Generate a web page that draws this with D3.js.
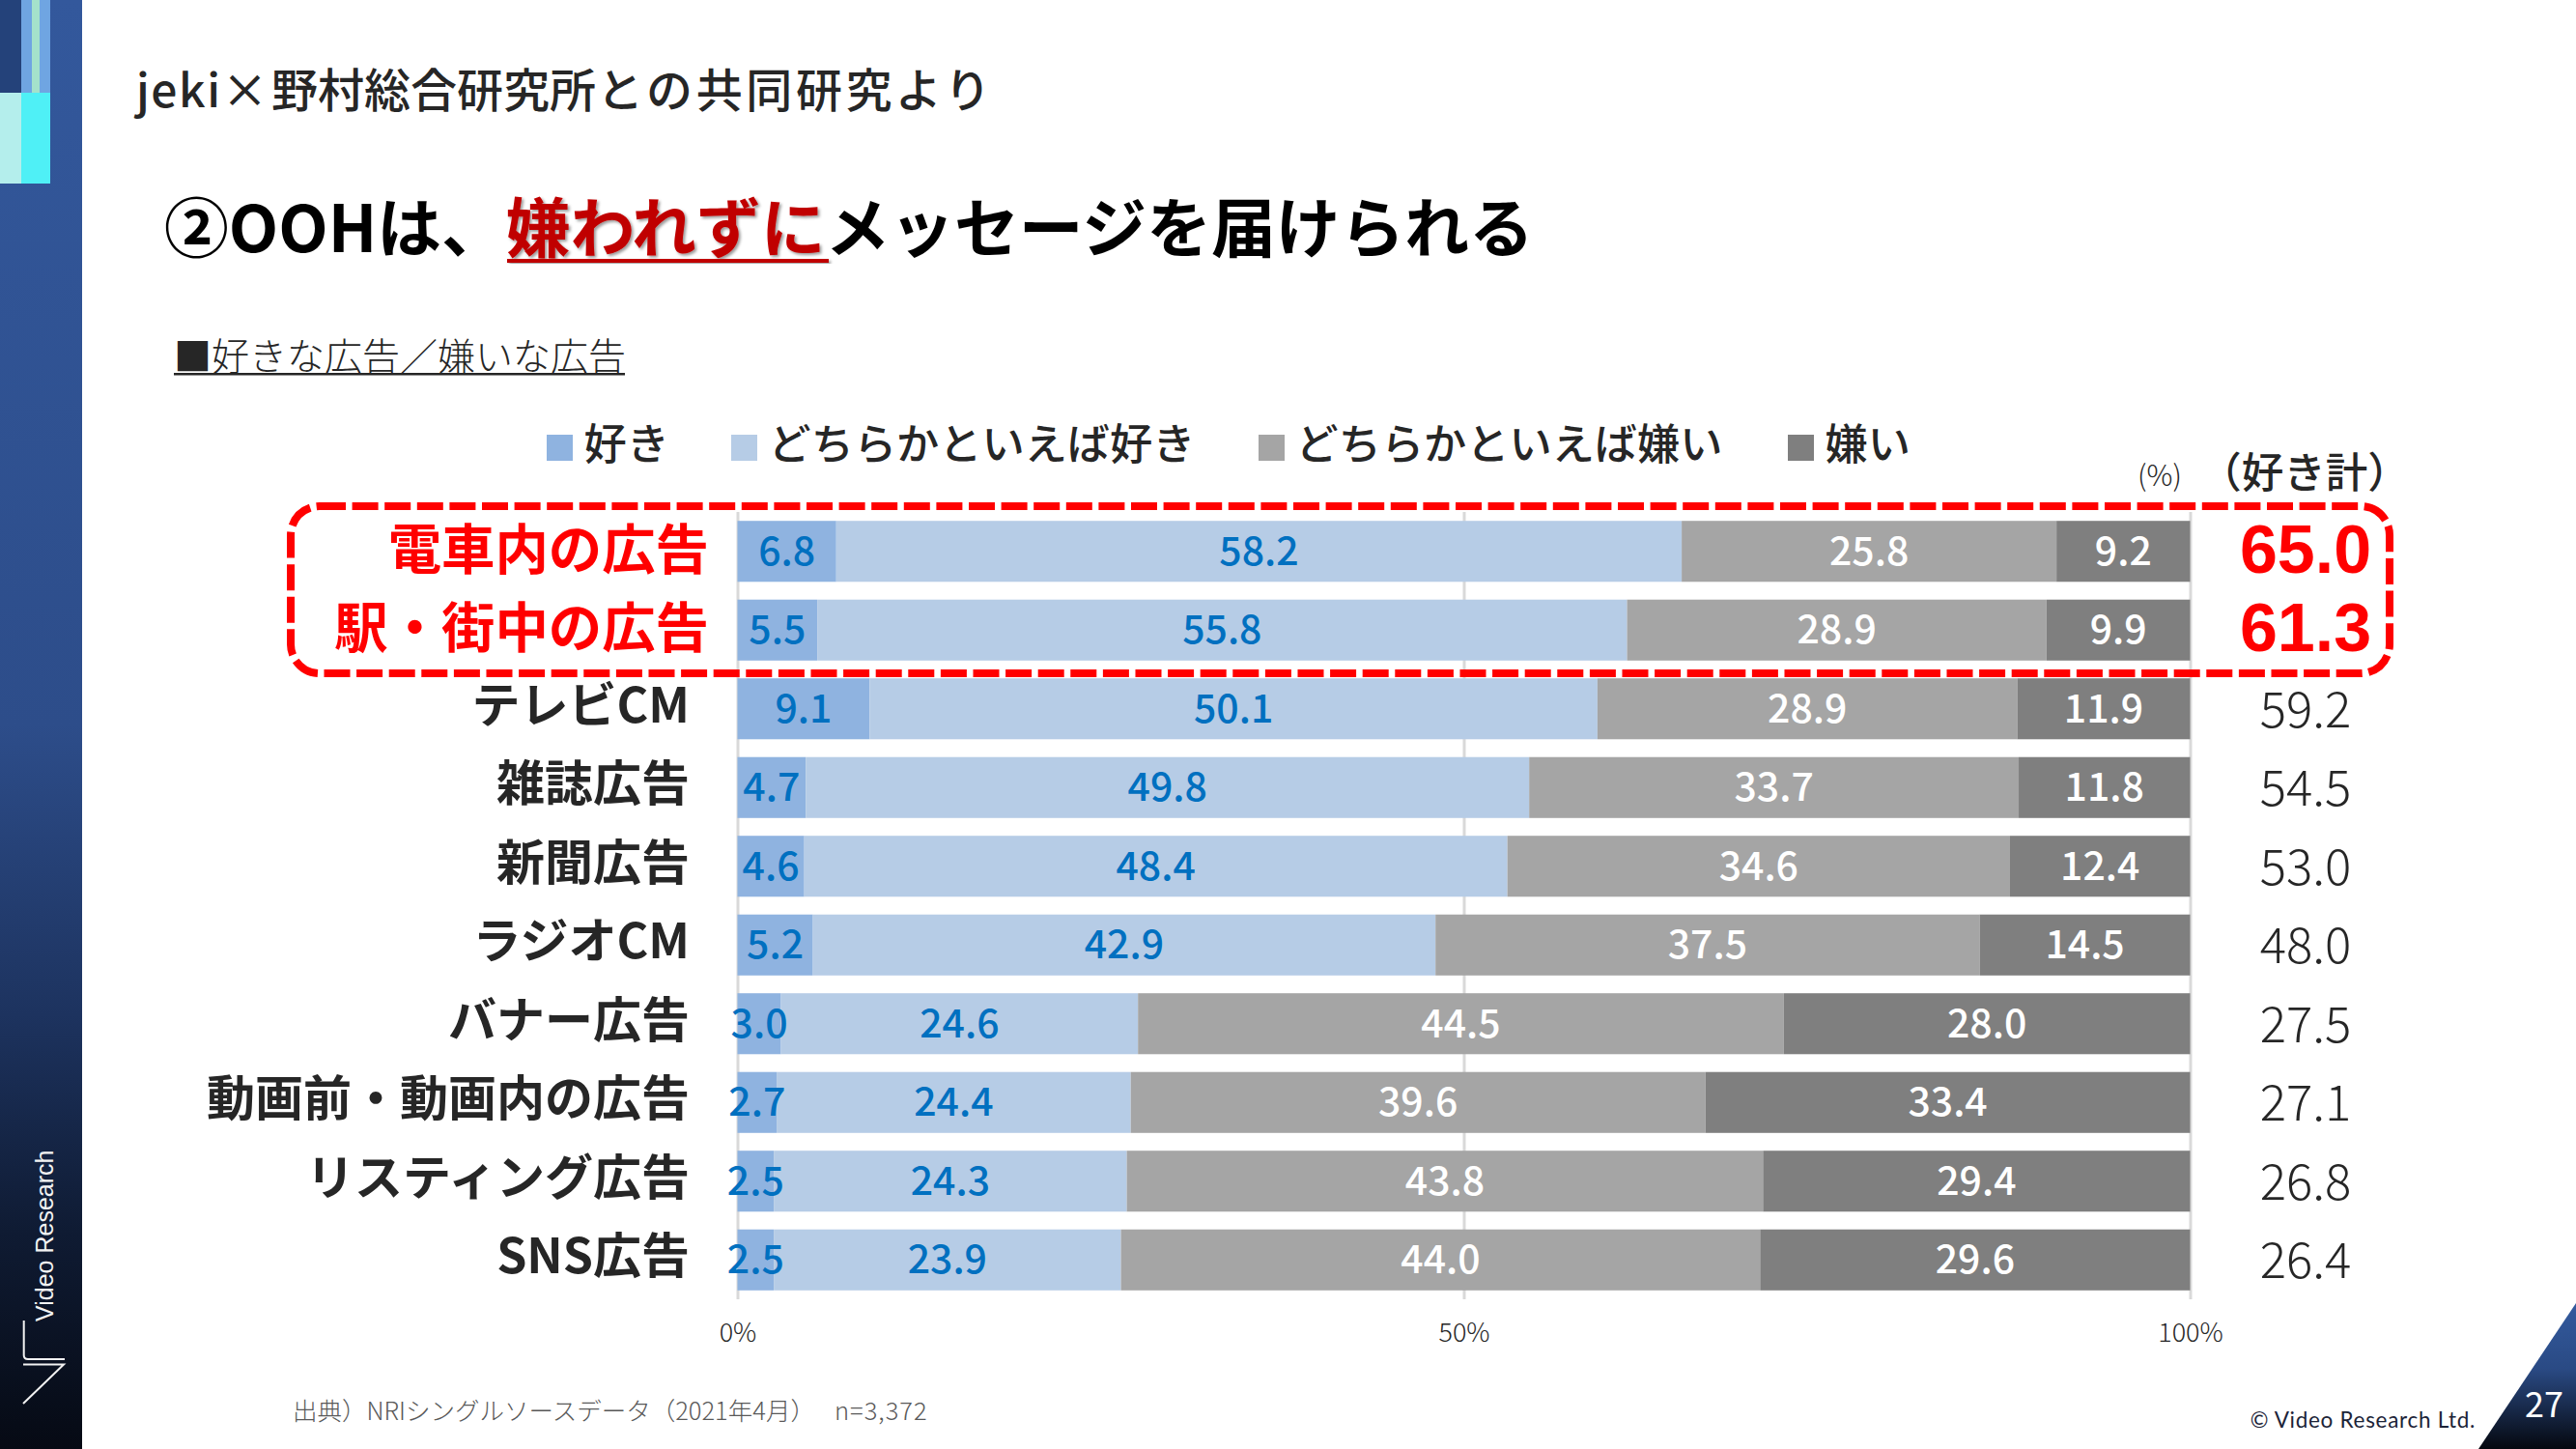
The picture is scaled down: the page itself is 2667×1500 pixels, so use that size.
<!DOCTYPE html>
<html>
<head>
<meta charset="utf-8">
<script src="https://cdn.jsdelivr.net/npm/d3@7"></script>
<style>
  html, body { margin: 0; padding: 0; background: #fff; }
  svg { display: block; }
  text { font-family: "Noto Sans CJK JP", sans-serif; }
</style>
</head>
<body>
<svg id="slide" width="2667" height="1500"></svg>
<script>
const categories = ["電車内の広告", "駅・街中の広告", "テレビCM", "雑誌広告", "新聞広告", "ラジオCM", "バナー広告", "動画前・動画内の広告", "リスティング広告", "SNS広告"]
const seriesNames = ["好き", "どちらかといえば好き", "どちらかといえば嫌い", "嫌い"]
const like = [6.8, 5.5, 9.1, 4.7, 4.6, 5.2, 3.0, 2.7, 2.5, 2.5]
const ratherLike = [58.2, 55.8, 50.1, 49.8, 48.4, 42.9, 24.6, 24.4, 24.3, 23.9]
const ratherDislike = [25.8, 28.9, 28.9, 33.7, 34.6, 37.5, 44.5, 39.6, 43.8, 44.0]
const dislike = [9.2, 9.9, 11.9, 11.8, 12.4, 14.5, 28.0, 33.4, 29.4, 29.6]
const likeTotal = ["65.0", "61.3", "59.2", "54.5", "53.0", "48.0", "27.5", "27.1", "26.8", "26.4"]
const xTicks = [0, 0.5, 1]

const colors = ["#8fb3e0", "#b6cce6", "#a5a5a5", "#7f7f7f"]
const red = "#ff0000"
const ink = "#262626"
const highlighted = 2 // first two rows are in the red box

const svg = d3.select("#slide")
const defs = svg.append("defs")

const sideGrad = defs.append("linearGradient").attr("id", "side").attr("x1", 0).attr("x2", 0).attr("y1", 0).attr("y2", 1)
sideGrad.append("stop").attr("offset", "0").attr("stop-color", "#33589c")
sideGrad.append("stop").attr("offset", "0.5").attr("stop-color", "#2d4d8a")
sideGrad.append("stop").attr("offset", "0.7").attr("stop-color", "#1d335f")
sideGrad.append("stop").attr("offset", "0.85").attr("stop-color", "#0f1b33")
sideGrad.append("stop").attr("offset", "1").attr("stop-color", "#060a14")

const cornerGrad = defs.append("linearGradient").attr("id", "corner").attr("x1", 0).attr("x2", 0).attr("y1", 0).attr("y2", 1)
cornerGrad.append("stop").attr("offset", "0").attr("stop-color", "#335a9e")
cornerGrad.append("stop").attr("offset", "0.45").attr("stop-color", "#2a4a84")
cornerGrad.append("stop").attr("offset", "1").attr("stop-color", "#05080f")

const shadow = defs.append("filter").attr("id", "shadow").attr("x", "-5%").attr("y", "-10%").attr("width", "110%").attr("height", "125%")
shadow.append("feDropShadow").attr("dx", 2).attr("dy", 2).attr("stdDeviation", 1.5).attr("flood-color", "#000").attr("flood-opacity", 0.4)

// sidebar and page furniture
const side = svg.append("g")
side.append("rect").attr("width", 85).attr("height", 1500).attr("fill", "url(#side)")
const blocks = [
  [0, 0, 22, 96, "#24427a"],
  [22, 0, 30, 96, "#6fa5e2"],
  [33, 0, 8, 96, "#a4e2cb"],
  [0, 96, 22, 94, "#b4eeec"],
  [22, 96, 30, 94, "#4ff0f6"]
]
side.selectAll("rect.block").data(blocks).join("rect").attr("class", "block")
  .attr("x", d => d[0]).attr("y", d => d[1]).attr("width", d => d[2]).attr("height", d => d[3]).attr("fill", d => d[4])
side.append("text").attr("transform", "translate(55,1368) rotate(-90)")
  .style("font-family", "'Liberation Sans', sans-serif").attr("font-size", 25).attr("fill", "#f2f2f2").text("Video Research")
side.append("path").attr("d", "M24.7 1367V1403Q24.7 1407 29 1407H67M24 1412.5H66L24 1453")
  .attr("fill", "none").attr("stroke", "#f2f2f2").attr("stroke-width", 2)

svg.append("path").attr("d", "M2566 1500L2667 1349V1500Z").attr("fill", "url(#corner)")
svg.append("text").attr("x", 2634).attr("y", 1467).attr("text-anchor", "middle").attr("font-size", 36).attr("fill", "#fff").text("27")
svg.append("text").attr("x", 2563).attr("y", 1478).attr("text-anchor", "end").attr("font-size", 22.5)
  .style("font-family", "Lato, sans-serif").attr("fill", "#1c2438").attr("letter-spacing", 0.7).text("© Video Research Ltd.")

// headings
const topTitle = svg.append("text").attr("x", 141).attr("y", 111).attr("font-size", 48).attr("font-weight", 500).attr("fill", ink)
topTitle.append("tspan").attr("letter-spacing", 1.5).text("jeki×")
topTitle.append("tspan").attr("dx", 2).text("野村総合研究所")
topTitle.append("tspan").attr("dx", 1).attr("letter-spacing", 3.6).text("との共同研究より")

// the red part of the headline has a drop shadow, so it is its own text
const headlineParts = ["②OOHは、", "嫌われずに", "メッセージを届けられる"]
let headX = 170
headlineParts.forEach((part, i) => {
  const t = svg.append("text").attr("x", headX).attr("y", 261).attr("font-size", 66.8).attr("font-weight", 700)
    .attr("fill", i === 1 ? "#c00000" : "#000").text(part)
  if (i === 1) t.attr("filter", "url(#shadow)")
  headX += t.node().getComputedTextLength()
})
svg.append("rect").attr("x", 525).attr("y", 268).attr("width", 333).attr("height", 4).attr("fill", "#c00000").attr("filter", "url(#shadow)")

svg.append("text").attr("x", 180).attr("y", 383).attr("font-size", 39).attr("font-weight", 300).attr("fill", ink)
  .text("■好きな広告／嫌いな広告")
svg.append("rect").attr("x", 180).attr("y", 386).attr("width", 467).attr("height", 2.5).attr("fill", ink)

// chart
const x = d3.scaleLinear().domain([0, 1]).range([763.5, 2267.5])
const y = d3.scaleBand().domain(categories).range([530, 1345]).paddingInner(0.226).paddingOuter(0.113)

const rows = categories.map((name, i) => ({
  name,
  [seriesNames[0]]: like[i],
  [seriesNames[1]]: ratherLike[i],
  [seriesNames[2]]: ratherDislike[i],
  [seriesNames[3]]: dislike[i]
}))
const stacked = d3.stack().keys(seriesNames).offset(d3.stackOffsetExpand)(rows)

const xAxis = svg.append("g").attr("transform", "translate(0,1345)")
  .call(d3.axisBottom(x).tickValues(xTicks).tickFormat(d3.format(".0%")).tickSize(815).tickPadding(20))
xAxis.select(".domain").remove()
xAxis.selectAll(".tick line").attr("y2", -815).attr("stroke", "#d9d9d9").attr("stroke-width", 3)
xAxis.selectAll(".tick text").attr("y", 44).attr("dy", 0)
  .attr("font-size", 27).attr("font-weight", 300).attr("fill", ink)
  .style("font-family", "'Noto Sans CJK JP', sans-serif")

const layers = svg.append("g").selectAll("g").data(stacked).join("g").attr("fill", (d, i) => colors[i])
layers.selectAll("rect").data(d => d).join("rect")
  .attr("x", d => x(d[0]))
  .attr("width", d => x(d[1]) - x(d[0]))
  .attr("y", d => y(d.data.name))
  .attr("height", y.bandwidth())

// segment values, blue on the two "like" series and white on the others
const valueLayers = svg.append("g").selectAll("g").data(stacked).join("g")
  .attr("fill", (d, i) => (i < 2 ? "#0070c0" : "#fff"))
valueLayers.selectAll("text").data(d => d.map(v => ({ v, key: d.key }))).join("text")
  .attr("x", d => x((d.v[0] + d.v[1]) / 2))
  .attr("y", d => y(d.v.data.name) + y.bandwidth() / 2 + 14)
  .attr("text-anchor", "middle")
  .attr("font-size", 41)
  .attr("font-weight", 500)
  .text(d => d.v.data[d.key].toFixed(1))

// category labels
svg.append("g").selectAll("text").data(categories).join("text")
  .attr("x", (d, i) => (i < highlighted ? 734 : 714))
  .attr("y", (d, i) => y(d) + y.bandwidth() / 2 + (i < highlighted ? 18 : 14))
  .attr("text-anchor", "end")
  .attr("font-size", (d, i) => (i < highlighted ? 55.4 : 50))
  .attr("font-weight", 700)
  .attr("fill", (d, i) => (i < highlighted ? red : ink))
  .text(d => d)

// like totals
svg.append("g").selectAll("text").data(likeTotal).join("text")
  .attr("x", 2387)
  .attr("y", (d, i) => y(categories[i]) + y.bandwidth() / 2 + (i < highlighted ? 22 : 19))
  .attr("text-anchor", "middle")
  .attr("font-size", (d, i) => (i < highlighted ? 70 : 51))
  .attr("font-weight", (d, i) => (i < highlighted ? 700 : 300))
  .attr("fill", (d, i) => (i < highlighted ? red : ink))
  .style("font-family", (d, i) => (i < highlighted ? "'Liberation Sans', sans-serif" : null))
  .text(d => d)

svg.append("text").attr("x", 2236).attr("y", 503).attr("text-anchor", "middle").attr("font-size", 30).attr("font-weight", 300).attr("fill", ink).text("(%)")
svg.append("text").attr("x", 2386).attr("y", 505).attr("text-anchor", "middle").attr("font-size", 43.5).attr("font-weight", 500).attr("fill", ink).text("（好き計）")

// legend
const legendX = [566, 757, 1303, 1851]
const legend = svg.append("g").selectAll("g").data(seriesNames).join("g")
  .attr("transform", (d, i) => `translate(${legendX[i]},450)`)
legend.append("rect").attr("width", 27).attr("height", 27).attr("fill", (d, i) => colors[i])
legend.append("text").attr("x", 38.5).attr("y", 26).attr("font-size", 44.2).attr("font-weight", 500).attr("fill", ink).text(d => d)

// red dashed highlight
svg.append("rect").attr("x", 301).attr("y", 524).attr("width", 2173).attr("height", 173).attr("rx", 30)
  .attr("fill", "none").attr("stroke", red).attr("stroke-width", 8).attr("stroke-dasharray", "27 6.6")

// source note
const note = svg.append("text").attr("x", 303).attr("y", 1470).attr("font-size", 25.5).attr("font-weight", 300).attr("fill", "#595959")
note.append("tspan").text("出典）NRIシングルソースデータ（2021年4月）")
note.append("tspan").attr("dx", 20).attr("letter-spacing", 1).text("n=3,372")
</script>
</body>
</html>
